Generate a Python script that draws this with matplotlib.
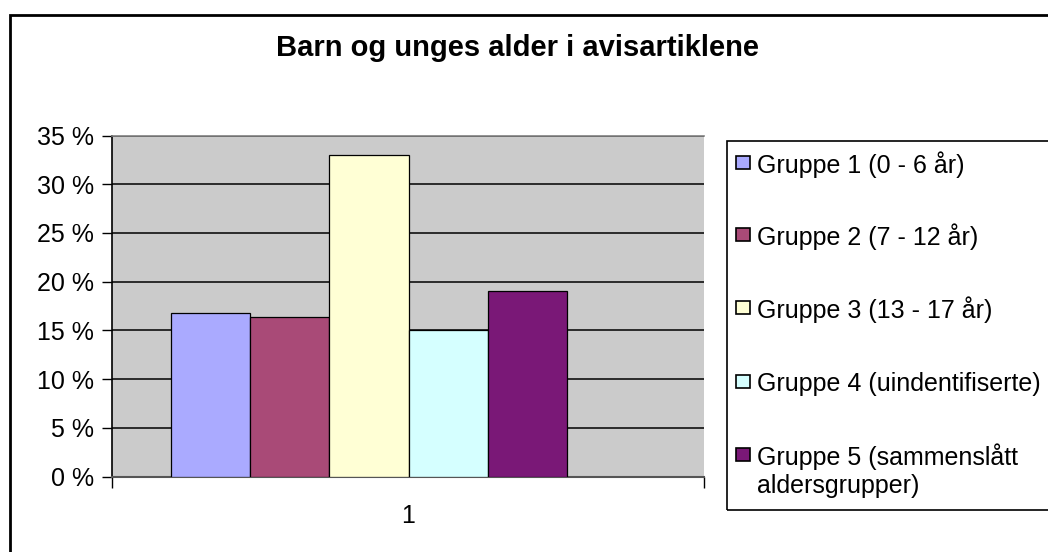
import matplotlib
matplotlib.use("Agg")
import matplotlib.pyplot as plt
from matplotlib.patches import Rectangle

plt.rcParams['font.family'] = ['Liberation Sans', 'DejaVu Sans']

title = "Barn og unges alder i avisartiklene"
series = ["Gruppe 1 (0 - 6 år)", "Gruppe 2 (7 - 12 år)", "Gruppe 3 (13 - 17 år)",
          "Gruppe 4 (uindentifiserte)", "Gruppe 5 (sammenslått\naldersgrupper)"]
values = [16.8, 16.4, 33.0, 15.0, 19.0]
colors = ["#AAAAFF", "#A94A77", "#FFFFD5", "#D5FFFF", "#7A1877"]
yticks = [0, 5, 10, 15, 20, 25, 30, 35]
category = "1"

W, H = 1048, 552
fig = plt.figure(figsize=(W / 100, H / 100), dpi=100)

def fx(px):
    return px / W

def fy(py):
    return 1 - py / H

FS = 18

# outer chart border
fig.patches.append(Rectangle((fx(10), fy(600)), fx(1100), fy(15) - fy(600),
                             transform=fig.transFigure, fill=False,
                             edgecolor="black", linewidth=2))

ax = fig.add_axes([fx(112), fy(476.5), fx(704) - fx(112), fy(135.5) - fy(476.5)])
ax.set_facecolor("#CBCBCB")
ax.set_xlim(0, 1)
ax.set_ylim(0, 35)

bw = 0.134
x0 = 0.099
for i, (v, c) in enumerate(zip(values, colors)):
    ax.bar(x0 + i * bw, v, width=bw, align="edge", color=c,
           edgecolor="black", linewidth=0.9, zorder=3)

for t in yticks[1:]:
    ax.axhline(t, color="black", linewidth=1.1, zorder=1)

ax.set_yticks(yticks)
ax.set_yticklabels([f"{t} %" for t in yticks], fontsize=FS)
ax.tick_params(axis="y", length=7, width=1, pad=6, colors="black")

ax.set_xticks([0.5])
ax.set_xticklabels([category], fontsize=FS)
ax.tick_params(axis="x", length=0, pad=20)
ax.set_xticks([0, 1], minor=True)
ax.tick_params(axis="x", which="minor", length=8, width=1, color="black")

ax.spines["top"].set_color("#808080")
ax.spines["top"].set_linewidth(1.2)
ax.spines["right"].set_visible(False)
ax.spines["bottom"].set_color("#555555")
ax.spines["bottom"].set_linewidth(1.5)
ax.spines["left"].set_color("black")
ax.spines["left"].set_linewidth(1.2)

fig.text(fx(518), fy(48), title, ha="center", va="center",
         fontsize=21, fontweight="bold")

# legend
fig.patches.append(Rectangle((fx(727), fy(510)), fx(400), fy(141) - fy(510),
                             transform=fig.transFigure, fill=False,
                             edgecolor="black", linewidth=1.2))
ys = [162, 234, 307, 381, 454]
for lab, c, y in zip(series, colors, ys):
    fig.patches.append(Rectangle((fx(736), fy(y + 7)), fx(14), fy(y - 6) - fy(y + 7),
                                 transform=fig.transFigure, facecolor=c,
                                 edgecolor="black", linewidth=1.2))
    for k, line in enumerate(lab.split("\n")):
        fig.text(fx(757), fy(y + 30 * k), line, ha="left", va="center_baseline",
                 fontsize=FS)

fig.savefig("out.png", dpi=100)
